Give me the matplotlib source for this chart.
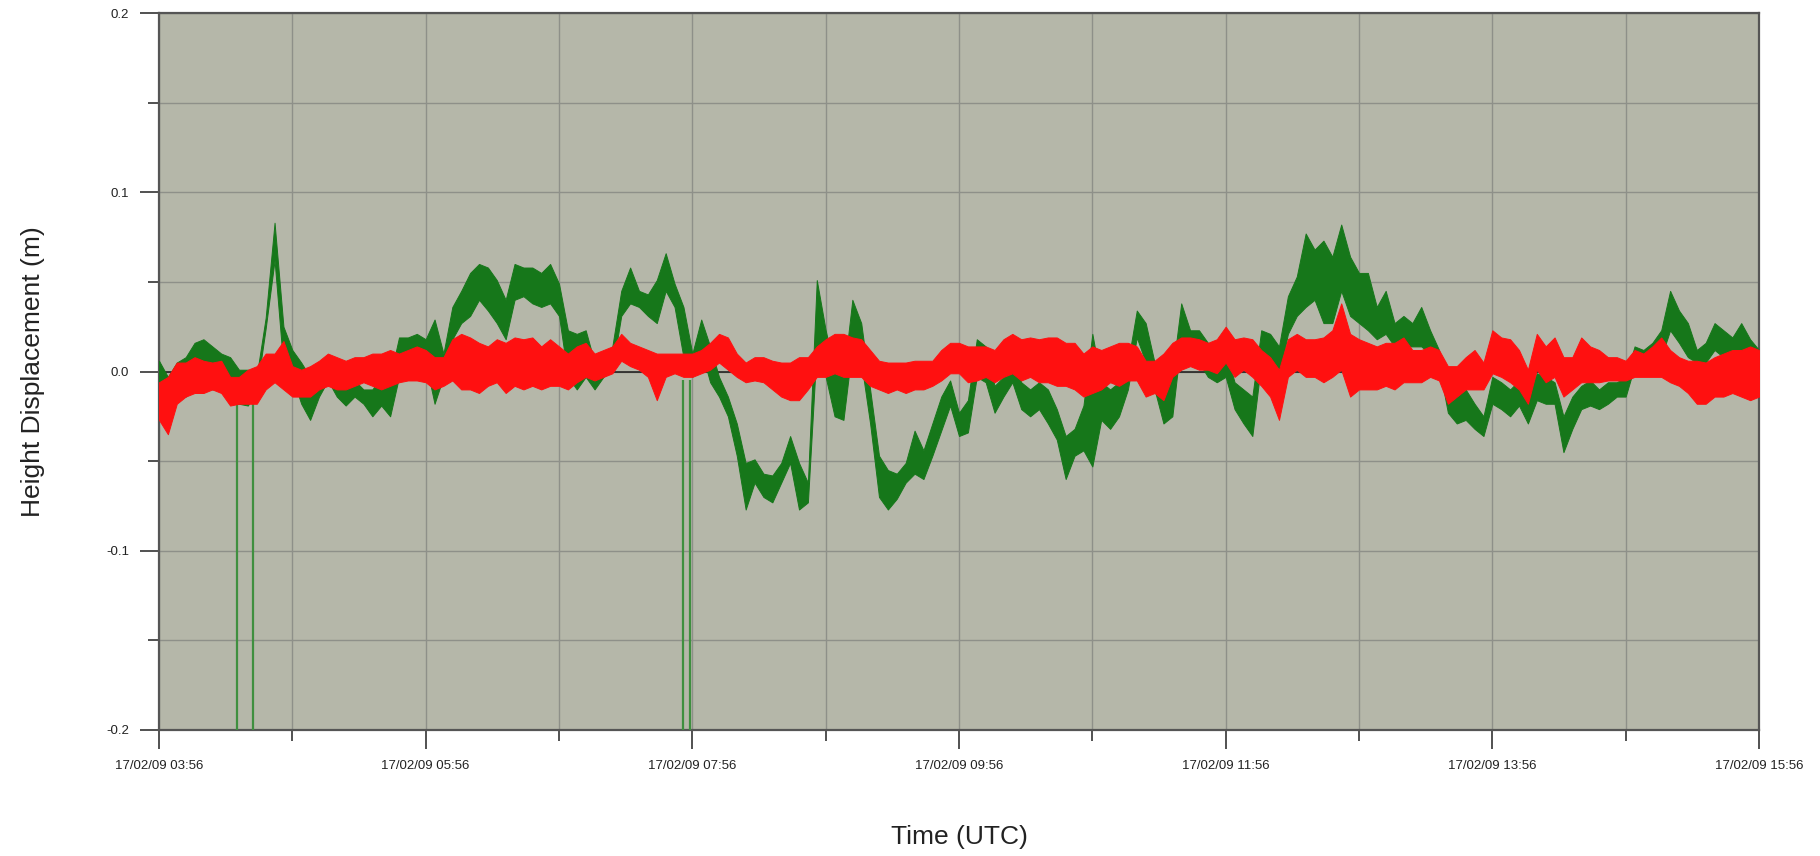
import numpy as np
import matplotlib
matplotlib.use("Agg")
import matplotlib.pyplot as plt
from matplotlib.ticker import FixedLocator, MultipleLocator

# samples every 4 minutes from 17/02/09 03:56 to 15:56 (UTC), values in mm
step_min = 4
minutes = np.arange(0, 721, step_min)

green_lo = [
    -27, -25, -14, -14, -10, -8, -10, -10, -18, -18,
    -19, -10, 24, 62, 2, -3, -18, -27, -14, -5,
    -14, -19, -14, -18, -25, -19, -25, -3, 8, 12,
    5, -18, -3, 18, 27, 31, 40, 34, 27, 18,
    40, 42, 38, 36, 38, 31, -3, -10, -3, -10,
    -3, 1, 31, 38, 36, 31, 27, 45, 36, 8,
    -3, 12, -6, -14, -25, -47, -77, -62, -70, -73,
    -62, -51, -77, -73, 14, -3, -25, -27, 14, 5,
    -29, -70, -77, -71, -62, -57, -60, -47, -33, -19,
    -36, -34, -3, -6, -23, -14, -6, -21, -25, -21,
    -29, -38, -60, -47, -44, -53, -27, -32, -25, -10,
    19, 5, -10, -29, -25, 18, 12, 5, -3, -6,
    -3, -21, -29, -36, 5, 5, -3, 21, 31, 36,
    40, 27, 27, 45, 31, 27, 23, 18, 21, 14,
    14, 14, 14, 10, 3, -23, -29, -27, -32, -36,
    -18, -21, -25, -19, -29, -16, -18, -18, -45, -32,
    -21, -19, -21, -18, -14, -14, 3, 5, 5, 8,
    23, 16, 8, 5, 5, 12, 8, 6, 8, 5,
    -1,
]
green_hi = [
    6, -3, 5, 8, 16, 18, 14, 10, 8, 1,
    1, -2, 30, 83, 25, 12, 5, -3, 1, 5,
    -3, -6, -5, -10, -10, -3, -3, 19, 19, 21,
    18, 29, 10, 36, 45, 55, 60, 58, 51, 40,
    60, 58, 58, 55, 60, 49, 23, 21, 23, 5,
    8, 14, 45, 58, 45, 43, 51, 66, 49, 36,
    10, 29, 14, -3, -14, -29, -51, -49, -57, -58,
    -51, -36, -51, -62, 51, 23, 1, -3, 40, 27,
    -10, -47, -55, -57, -51, -33, -44, -29, -14, -5,
    -23, -16, 18, 14, -8, -3, 8, -6, -10, -6,
    -10, -21, -36, -32, -19, 21, -6, -10, -6, 5,
    34, 27, 5, -6, -1, 38, 23, 23, 16, 3,
    12, -6, -10, -14, 23, 21, 14, 42, 53, 77,
    68, 73, 64, 82, 64, 55, 55, 36, 45, 27,
    31, 27, 36, 23, 12, -10, -14, -10, -18, -25,
    -3, -6, -10, -5, -14, -1, -3, -6, -25, -14,
    -8, -5, -10, -6, -6, -3, 14, 12, 16, 23,
    45, 34, 27, 12, 16, 27, 23, 19, 27, 18,
    12,
]
red_lo = [
    -27, -35, -18, -14, -12, -12, -10, -12, -19, -18,
    -18, -18, -10, -6, -10, -14, -14, -14, -10, -8,
    -10, -10, -8, -6, -8, -10, -8, -6, -5, -5,
    -6, -10, -8, -5, -10, -10, -12, -8, -6, -12,
    -8, -10, -8, -10, -8, -8, -10, -6, -3, -5,
    -3, -1, 6, 3, 1, -3, -16, -3, -1, -3,
    -3, -1, 1, 5, 1, -3, -6, -5, -6, -10,
    -14, -16, -16, -10, -3, -3, -1, -3, -3, -3,
    -8, -10, -12, -10, -12, -10, -10, -8, -5, -1,
    -1, -6, -5, -3, -6, -3, -1, -5, -3, -6,
    -6, -8, -8, -10, -14, -12, -10, -6, -8, -5,
    -5, -14, -12, -16, -3, 1, 3, 1, 1, -1,
    5, -3, 1, -3, -8, -14, -27, -3, 1, -3,
    -3, -6, -3, 1, -14, -10, -10, -10, -8, -10,
    -6, -6, -6, -3, -5, -18, -14, -10, -10, -10,
    -1, -3, -6, -10, -18, 1, -6, -3, -14, -10,
    -6, -6, -6, -5, -5, -5, -3, -3, -3, -3,
    -6, -8, -12, -18, -18, -14, -14, -12, -14, -16,
    -14,
]
red_hi = [
    -6, -3, 5, 5, 8, 6, 5, 6, -3, -3,
    1, 3, 10, 10, 17, 3, 1, 3, 6, 10,
    8, 6, 8, 8, 10, 10, 12, 10, 12, 14,
    12, 8, 8, 18, 21, 19, 16, 14, 18, 16,
    19, 18, 19, 14, 18, 14, 10, 14, 16, 10,
    12, 14, 21, 16, 14, 12, 10, 10, 10, 10,
    10, 12, 16, 21, 19, 10, 5, 8, 8, 6,
    5, 5, 8, 8, 14, 18, 21, 21, 19, 18,
    12, 6, 5, 5, 5, 6, 6, 6, 12, 16,
    16, 14, 14, 14, 12, 18, 21, 18, 19, 18,
    19, 19, 16, 16, 10, 14, 12, 14, 16, 16,
    14, 6, 6, 10, 16, 19, 19, 18, 16, 18,
    25, 18, 19, 18, 12, 8, 1, 18, 21, 18,
    18, 19, 23, 38, 21, 18, 16, 14, 16, 16,
    19, 12, 12, 14, 12, 3, 3, 8, 12, 5,
    23, 19, 18, 12, 1, 21, 14, 19, 8, 8,
    19, 14, 12, 8, 8, 6, 12, 10, 14, 19,
    12, 8, 6, 6, 5, 8, 10, 12, 12, 14,
    12,
]

# green dropouts (minutes after 03:56) that fall off the bottom of the chart
dropout_min = [35, 42.5, 236, 239]

tick_labels = ["17/02/09 03:56", "17/02/09 05:56", "17/02/09 07:56",
               "17/02/09 09:56", "17/02/09 11:56", "17/02/09 13:56",
               "17/02/09 15:56"]

for name, arr in [("green_lo", green_lo), ("green_hi", green_hi),
                  ("red_lo", red_lo), ("red_hi", red_hi)]:
    assert len(arr) == len(minutes), (name, len(arr))

hours = minutes / 60.0
g_lo = np.array(green_lo) / 1000.0
g_hi = np.array(green_hi) / 1000.0
r_lo = np.array(red_lo) / 1000.0
r_hi = np.array(red_hi) / 1000.0

green = "#16771a"
red = "#ff1010"

plt.rcParams["font.family"] = ["Liberation Sans", "DejaVu Sans"]

fig = plt.figure(figsize=(18.2, 8.56), dpi=100)
ax = fig.add_axes([159 / 1820, 1 - 730 / 856, 1600 / 1820, 717 / 856])
ax.set_facecolor("#b5b7a9")

ax.axhline(0, color="#1a1a1a", lw=1.1, zorder=2)

ax.vlines(np.array(dropout_min) / 60.0, -0.25, -0.005, color="#3f8f3f", lw=1.6, zorder=3)
ax.fill_between(hours, g_lo, g_hi, color=green, lw=0.7, edgecolor=green, zorder=3)
ax.fill_between(hours, r_lo, r_hi, color=red, lw=0.7, edgecolor=red, zorder=4)

ax.set_xlim(0, 12)
ax.set_ylim(-0.2, 0.2)

ax.xaxis.set_major_locator(FixedLocator(np.arange(0, 13, 2)))
ax.xaxis.set_minor_locator(FixedLocator(np.arange(1, 12, 2)))
ax.set_xticklabels(tick_labels)
ax.yaxis.set_major_locator(MultipleLocator(0.1))
ax.yaxis.set_minor_locator(MultipleLocator(0.05))
ax.yaxis.set_major_formatter(plt.FuncFormatter(lambda v, p: f"{v:.1f}"))

ax.grid(True, which="both", color="#8e9089", lw=1.0, zorder=1)
ax.set_axisbelow(True)

ax.tick_params(which="major", length=13.5, width=1.2, color="#333333",
               pad=8, labelsize=9.5, labelcolor="#222222")
ax.tick_params(which="minor", length=8, width=1.2, color="#333333")

for s in ax.spines.values():
    s.set_color("#555555")
    s.set_linewidth(1.6)

ax.set_xlabel("Time (UTC)", fontsize=19, color="#222222", labelpad=38)
ax.set_ylabel("Height Displacement (m)", fontsize=19, color="#222222", labelpad=44)

fig.savefig("out.png", dpi=100, facecolor="white")
